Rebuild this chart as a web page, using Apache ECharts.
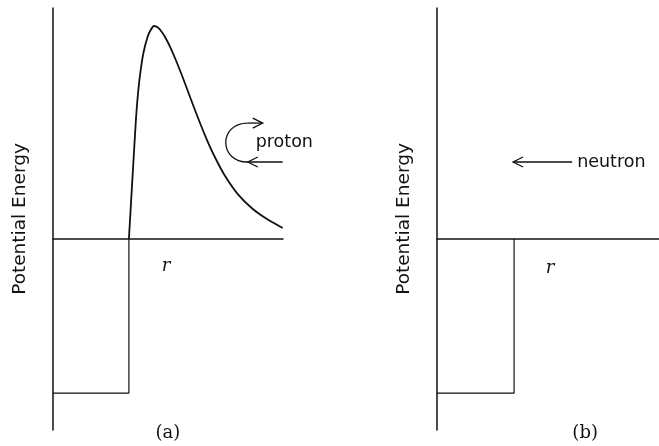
<!DOCTYPE html>
<html>
<head>
<meta charset="utf-8">
<script src="https://cdn.jsdelivr.net/npm/echarts@6/dist/echarts.min.js"></script>
<style>
  html, body { margin: 0; padding: 0; background: #fff; }
  #chart { width: 659px; height: 446px; }
</style>
</head>
<body>
<div id="chart"></div>
<script>
// square well, same in both panels (r in units of the well radius)
const wellEdge = 1;
const wellDepth = -20;

// Coulomb barrier seen by the proton, panel (a)
const barrierR = [1.000, 1.053, 1.092, 1.112, 1.145, 1.191, 1.250, 1.289, 1.329, 1.382,
                  1.434, 1.487, 1.553, 1.618, 1.697, 1.776, 1.855, 1.934, 2.026, 2.132,
                  2.263, 2.434, 2.632, 2.829, 3.026];
const barrierV = [0, 8.96, 15.45, 18.05, 21.17, 24.16, 26.36, 27.17, 27.66, 27.47,
                  26.88, 26.04, 24.74, 23.25, 21.30, 19.22, 17.14, 15.13, 12.92, 10.65,
                  8.25, 5.84, 3.90, 2.53, 1.43];

// axis ranges
const rMaxA = 3.03;
const rMaxB = 2.88;
const vMin = -24.8;
const vMax = 30;

// annotation anchors, in data units
const protonArc = { cx: 2.566, left: 2.276, top: 15.06, bottom: 10.0, tip: 2.763, tail: 3.026 };
const protonLabel = [2.67, 12.6];
const neutronArrow = { tip: 0.987, tail: 1.753, v: 10.0 };
const neutronLabel = [1.818, 10.0];
const rLabelA = [1.49, -3.6];
const rLabelB = [1.468, -3.8];
const captionA = [1.513, -25.2];
const captionB = [1.922, -25.2];

const ink = '#111';
const chart = echarts.init(document.getElementById('chart'));

function wellData() {
  return [[0, wellDepth], [wellEdge, wellDepth], [wellEdge, 0]];
}

function xAxisFor(grid, max) {
  return {
    type: 'value', gridIndex: grid, min: 0, max: max,
    axisLine: { lineStyle: { color: ink, width: 1.5 } },
    axisTick: { show: false }, axisLabel: { show: false }, splitLine: { show: false }
  };
}

function yAxisFor(grid) {
  return {
    type: 'value', gridIndex: grid, min: vMin, max: vMax,
    name: 'Potential Energy', nameLocation: 'middle', nameRotate: 90, nameGap: 23,
    nameTextStyle: { fontFamily: 'DejaVu Sans', fontSize: 18.5, color: ink },
    axisLine: { lineStyle: { color: ink, width: 1.5 } },
    axisTick: { show: false }, axisLabel: { show: false }, splitLine: { show: false }
  };
}

chart.setOption({
  animation: false,
  grid: [
    { left: 53, right: 376, top: 8, bottom: 16, outerBoundsMode: 'none' },
    { left: 437, right: 0, top: 8, bottom: 16, outerBoundsMode: 'none' }
  ],
  xAxis: [xAxisFor(0, rMaxA), xAxisFor(1, rMaxB)],
  yAxis: [yAxisFor(0), yAxisFor(1)],
  series: [
    {
      type: 'line', xAxisIndex: 0, yAxisIndex: 0, data: wellData(),
      symbol: 'none', lineStyle: { color: ink, width: 1.2 }
    },
    {
      type: 'line', xAxisIndex: 0, yAxisIndex: 0,
      data: barrierR.map((r, i) => [r, barrierV[i]]),
      symbol: 'none', smooth: 0.2, lineStyle: { color: ink, width: 1.8 }
    },
    {
      type: 'line', xAxisIndex: 1, yAxisIndex: 1, data: wellData(),
      symbol: 'none', lineStyle: { color: ink, width: 1.2 }
    }
  ]
});

// arrows and labels, placed through the axes
const pa = (p) => chart.convertToPixel({ gridIndex: 0 }, p);
const pb = (p) => chart.convertToPixel({ gridIndex: 1 }, p);

const arcTop = pa([protonArc.cx, protonArc.top]);
const arcBot = pa([protonArc.cx, protonArc.bottom]);
const arcLeft = pa([protonArc.left, protonArc.top])[0];
const ctrlX = arcTop[0] - (arcTop[0] - arcLeft) * 4 / 3;
const upTip = pa([protonArc.tip, protonArc.top]);
const lowTail = pa([protonArc.tail, protonArc.bottom]);
const nTip = pb([neutronArrow.tip, neutronArrow.v]);
const nTail = pb([neutronArrow.tail, neutronArrow.v]);
const lineStyle = { stroke: ink, lineWidth: 1.3, fill: null };

function head(tip, dir) {
  // open chevron pointing in dir (+1 right, -1 left)
  return {
    type: 'polyline', silent: true,
    shape: { points: [[tip[0] - dir * 10, tip[1] - 5], tip, [tip[0] - dir * 10, tip[1] + 5]] },
    style: lineStyle
  };
}

function seg(a, b) {
  return { type: 'line', silent: true, shape: { x1: a[0], y1: a[1], x2: b[0], y2: b[1] }, style: lineStyle };
}

function label(text, p, font, align) {
  return {
    type: 'text', silent: true, x: p[0], y: p[1],
    style: { text: text, font: font, fill: ink, align: align, verticalAlign: 'middle' }
  };
}

chart.setOption({
  graphic: [
    {
      type: 'bezierCurve', silent: true,
      shape: {
        x1: arcTop[0], y1: arcTop[1], x2: arcBot[0], y2: arcBot[1],
        cpx1: ctrlX, cpy1: arcTop[1], cpx2: ctrlX, cpy2: arcBot[1]
      },
      style: lineStyle
    },
    seg(arcTop, upTip),
    head(upTip, 1),
    seg(lowTail, arcBot),
    head(arcBot, -1),
    seg(nTail, nTip),
    head(nTip, -1),
    label('proton', pa(protonLabel), '17.5px "DejaVu Sans"', 'left'),
    label('neutron', pb(neutronLabel), '17.5px "DejaVu Sans"', 'left'),
    label('r', pa(rLabelA), 'italic 18px "DejaVu Serif"', 'center'),
    label('r', pb(rLabelB), 'italic 18px "DejaVu Serif"', 'center'),
    label('(a)', pa(captionA), '18px "DejaVu Serif"', 'center'),
    label('(b)', pb(captionB), '18px "DejaVu Serif"', 'center')
  ]
});
</script>
</body>
</html>
